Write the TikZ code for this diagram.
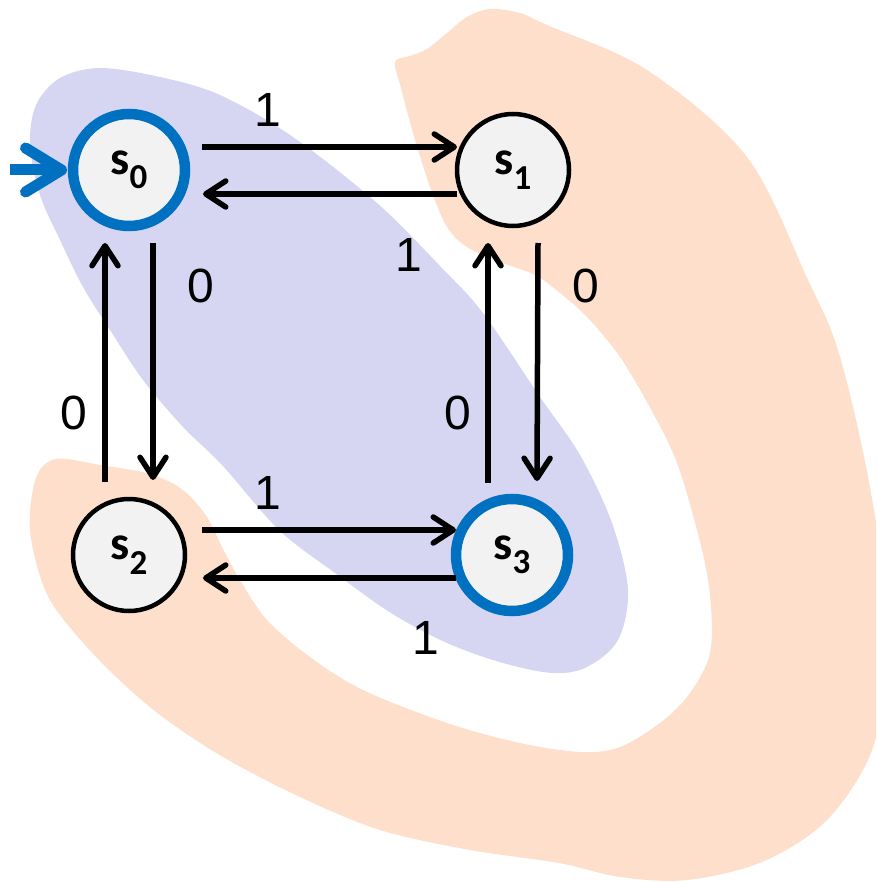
\documentclass[tikz,border=0pt]{standalone}
\usepackage{fontspec}
\setmainfont{Liberation Sans}
\newfontfamily\statefont{Carlito}
\usetikzlibrary{arrows.meta}
\definecolor{peach}{HTML}{FDDFCB}
\definecolor{lav}{HTML}{D6D6F3}
\definecolor{ringblue}{HTML}{0070C0}
\definecolor{nodefill}{HTML}{F2F2F2}
\newcommand\stlab[1]{{\statefont\bfseries\fontsize{48}{50}\selectfont s\raisebox{-0.3em}{\fontsize{35}{35}\selectfont #1}}}
\tikzset{
  state/.style={circle, draw=black, line width=4.5pt, fill=nodefill, minimum size=112pt, inner sep=0pt, outer sep=0pt},
  accept/.style={state, draw=ringblue, line width=10.5pt},
  edge/.style={line width=5.5pt, -{Straight Barb[length=20pt,width=26pt,round]}},
  startarrow/.style={draw=ringblue, line width=11pt, -{Straight Barb[length=36pt,width=44pt,round]}},
  lab/.style={font=\fontsize{48}{50}\selectfont, inner sep=0pt},
}
\begin{document}
\begin{tikzpicture}[x=1pt,y=-1pt]
\useasboundingbox (0,0) rectangle (876,882);
\begin{scope}
\clip (0,0) rectangle (876,882);
% peach C-shaped region
\fill[peach] plot[smooth cycle, tension=0.55] coordinates {
 (395,62) (410,56) (427,49) (447,33) (467,17) (490,9) (520,13) (547,25)
 (647,70) (747,157) (808,280) (837,347) (862,447) (880,547) (888,620)
 (886,690) (868,760) (825,822) (762,862) (687,880) (620,877) (559,863)
 (470,850) (380,830) (300,797) (223,757) (160,715) (112,673) (72,630)
 (45,590) (30,530) (36,478) (56,459) (100,465) (150,474) (183,490)
 (207,517) (222,547) (240,580) (267,620) (310,657) (363,690) (447,723)
 (520,743) (581,752) (620,747) (660,723) (687,697) (707,663) (712,630)
 (708,580) (697,530) (677,463) (653,413) (620,357) (587,317) (560,293)
 (535,275) (500,262) (467,247) (447,227) (430,187) (413,133) (401,88)};
% lavender egg
\fill[lav] plot[smooth cycle, tension=0.55] coordinates {
 (100,68) (160,77) (220,95) (293,137) (377,203) (440,266) (483,313)
 (540,397) (580,455) (612,523) (628,590) (618,640) (587,667) (553,673)
 (503,663) (447,643) (391,613) (335,573) (279,530) (222,465) (183,427)
 (143,380) (110,330) (83,287) (60,240) (40,195) (30,145) (36,105) (60,78)};
\end{scope}
% states
\node[accept] (s0) at (129,170) {\stlab{0}};
\node[state]  (s1) at (513,170) {\stlab{1}};
\node[state]  (s2) at (129,555) {\stlab{2}};
\node[accept] (s3) at (512,555) {\stlab{3}};
% initial arrow
\coordinate (init) at (10,170);
\draw[startarrow] (init) -- ([shift={(-6,0)}]s0.west);
% transitions
\draw[edge] ([shift={(17,-23)}]s0.east) -- ([shift={(0,-23)}]s1.west)
  node[lab, pos=0.26, yshift=37pt] (l01) {1};
\draw[edge] ([shift={(0,24)}]s1.west) -- ([shift={(18,24)}]s0.east)
  node[lab, pos=0.19, yshift=-61pt] (l10) {1};
\draw[edge] ([shift={(24,17)}]s0.south) -- ([shift={(24,-19)}]s2.north)
  node[lab, pos=0.18, xshift=48pt] (l02) {0};
\draw[edge] ([shift={(-24,-17)}]s2.north) -- ([shift={(-24,17)}]s0.south)
  node[lab, pos=0.29, xshift=-31pt] (l20) {0};
\draw[edge] ([shift={(25,17)}]s1.south) -- ([shift={(25,-18)}]s3.north)
  node[lab, pos=0.18, xshift=48pt] (l13) {0};
\draw[edge] ([shift={(-24,-16)}]s3.north) -- ([shift={(-25,17)}]s1.south)
  node[lab, pos=0.29, xshift=-30pt] (l31) {0};
\draw[edge] ([shift={(17,-25)}]s2.east) -- ([shift={(0,-25)}]s3.west)
  node[lab, pos=0.26, yshift=37pt] (l23) {1};
\draw[edge] ([shift={(0,23)}]s3.west) -- ([shift={(18,23)}]s2.east)
  node[lab, pos=0.12, yshift=-60pt] (l32) {1};
\end{tikzpicture}
\end{document}
